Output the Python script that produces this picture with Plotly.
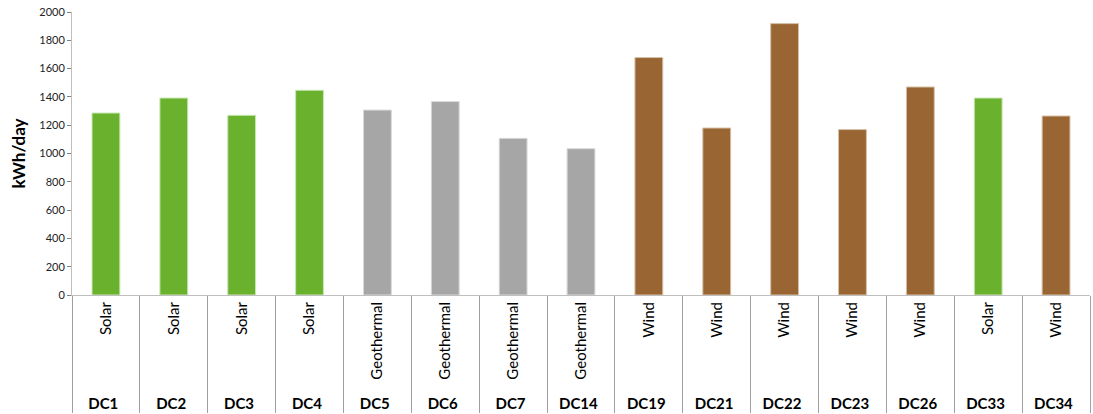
import plotly.graph_objects as go

centres = ["DC1", "DC2", "DC3", "DC4", "DC5", "DC6", "DC7", "DC14",
           "DC19", "DC21", "DC22", "DC23", "DC26", "DC33", "DC34"]
sources = ["Solar", "Solar", "Solar", "Solar", "Geothermal", "Geothermal",
           "Geothermal", "Geothermal", "Wind", "Wind", "Wind", "Wind",
           "Wind", "Solar", "Wind"]
kwh_day = [1286, 1392, 1270, 1447, 1307, 1367, 1107, 1034,
           1678, 1180, 1918, 1169, 1470, 1392, 1265]

kleur = {"Solar": "#6AB22E", "Geothermal": "#A6A6A6", "Wind": "#996633"}
rand = {"Solar": "#C9E6B4", "Geothermal": "#D9D9D9", "Wind": "#D6BFA6"}

fig = go.Figure()
fig.add_trace(go.Bar(
    x=[[f"<b>{c}</b>" for c in centres], sources],
    y=kwh_day,
    width=0.41,
    marker=dict(color=[kleur[s] for s in sources],
                line=dict(color=[rand[s] for s in sources], width=1)),
))

fig.update_layout(
    width=1093, height=414,
    margin=dict(l=72, r=3, t=12, b=119),
    plot_bgcolor="white", paper_bgcolor="white",
    showlegend=False,
    font=dict(family="Lato, Open Sans, sans-serif", color="black"),
)
fig.update_xaxes(
    type="multicategory",
    automargin=False,
    tickangle=-90,
    tickfont=dict(size=15, color="black"),
    showline=True, linecolor="#BFBFBF", linewidth=1,
    ticks="outside", ticklen=5, tickcolor="#808080",
    showdividers=True, dividercolor="#A0A0A0", dividerwidth=1,
)
fig.update_yaxes(
    automargin=False,
    range=[0, 2000], dtick=200,
    showgrid=False, zeroline=False,
    showline=True, linecolor="#BFBFBF", linewidth=1,
    ticks="outside", ticklen=4, tickcolor="#808080",
    tickfont=dict(size=11, color="#222222"),
    title=dict(text="<b>kWh/day</b>", font=dict(size=17, color="black"), standoff=9),
)

# the page's body margin would shift the whole figure by 8px
fig.write_html("out.html", config={"displayModeBar": False},
               post_script="document.body.style.margin='0px';")
